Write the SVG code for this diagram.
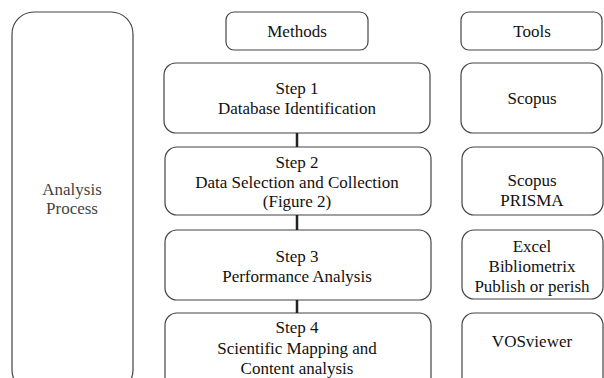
<svg xmlns="http://www.w3.org/2000/svg" width="604" height="378" viewBox="0 0 604 378">
<style>
.box{fill:#fff;stroke:#444;stroke-width:1.2}
.conn{stroke:#222;stroke-width:2.5}
</style>
<rect width="604" height="378" fill="#fff"/>
<g font-family="Liberation Serif, serif" font-size="17" fill="#111" text-anchor="middle">
<g id="analysis">
<rect class="box" x="12" y="12" width="121" height="380" rx="22"/>
<text x="72" y="195" fill="#444">Analysis</text>
<text x="72" y="214" fill="#444">Process</text>
</g>
<g id="methods">
<rect class="box" x="226" y="12" width="142" height="38" rx="8"/>
<text x="297" y="37">Methods</text>
</g>
<g id="tools">
<rect class="box" x="461" y="12" width="141" height="38" rx="8"/>
<text x="532" y="37">Tools</text>
</g>
<g id="step1">
<rect class="box" x="164" y="63" width="266" height="70" rx="12"/>
<text x="297" y="94">Step 1</text>
<text x="297" y="114">Database Identification</text>
</g>
<g id="step2">
<rect class="box" x="165" y="147" width="266" height="68" rx="12"/>
<text x="297" y="168">Step 2</text>
<text x="297" y="188">Data Selection and Collection</text>
<text x="297" y="207">(Figure 2)</text>
</g>
<g id="step3">
<rect class="box" x="165" y="230" width="266" height="70" rx="12"/>
<text x="297" y="262">Step 3</text>
<text x="297" y="282">Performance Analysis</text>
</g>
<g id="step4">
<rect class="box" x="165" y="313" width="266" height="80" rx="12"/>
<text x="297" y="333">Step 4</text>
<text x="297" y="354">Scientific Mapping and</text>
<text x="297" y="374">Content analysis</text>
</g>
<g id="tool1">
<rect class="box" x="461" y="63" width="141" height="70" rx="12"/>
<text x="532" y="104">Scopus</text>
</g>
<g id="tool2">
<rect class="box" x="462" y="147" width="141" height="68" rx="12"/>
<text x="532" y="186">Scopus</text>
<text x="532" y="206">PRISMA</text>
</g>
<g id="tool3">
<rect class="box" x="462" y="230" width="141" height="69" rx="12"/>
<text x="532" y="252">Excel</text>
<text x="532" y="272">Bibliometrix</text>
<text x="532" y="292">Publish or perish</text>
</g>
<g id="tool4">
<rect class="box" x="462" y="313" width="141" height="80" rx="12"/>
<text x="532" y="347">VOSviewer</text>
</g>
</g>
<g id="connectors">
<line class="conn" x1="297" y1="133" x2="297" y2="147"/>
<line class="conn" x1="297" y1="215" x2="297" y2="230"/>
<line class="conn" x1="297" y1="300" x2="297" y2="313"/>
</g>
</svg>
